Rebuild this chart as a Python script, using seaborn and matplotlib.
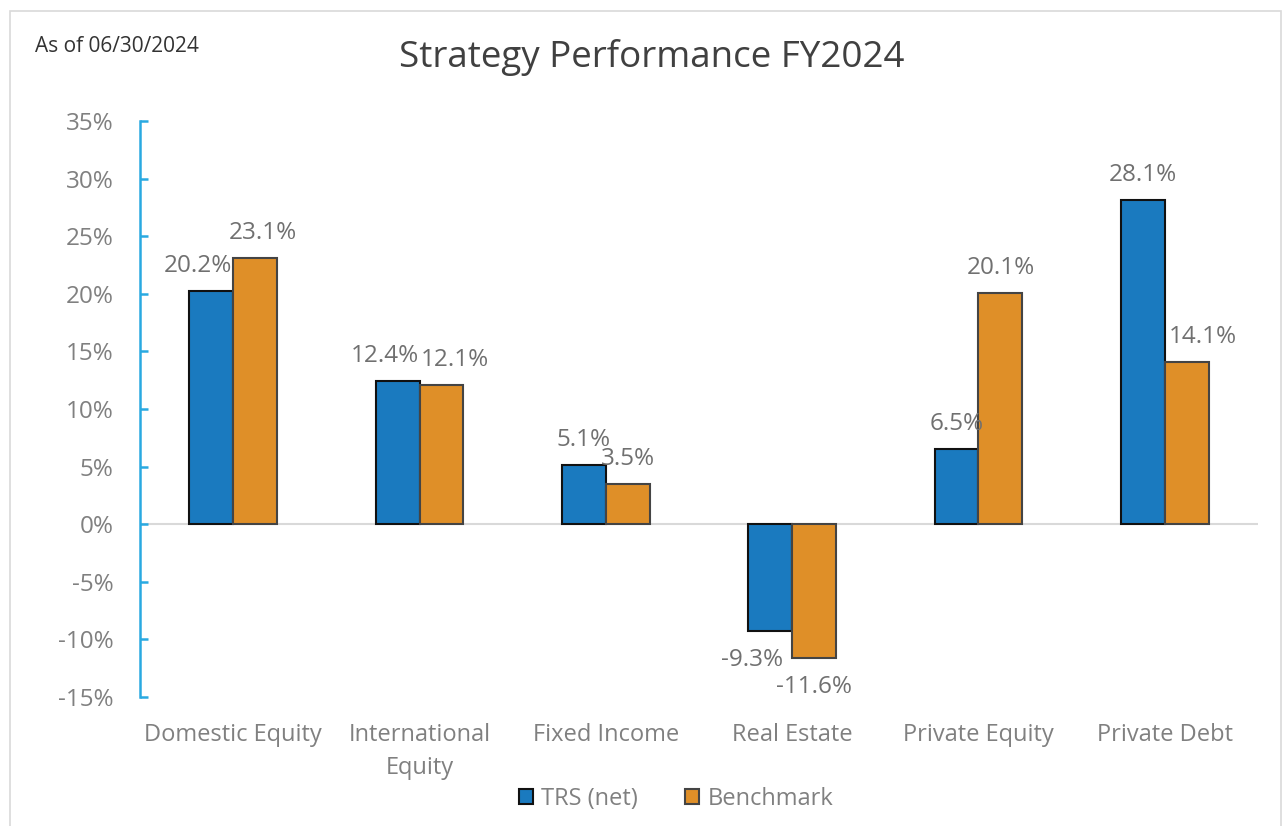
import pandas as pd
import numpy as np
import matplotlib
matplotlib.use('Agg')
import matplotlib.pyplot as plt
import seaborn as sns
from matplotlib.patches import Patch, Rectangle

# data
categories = ['Domestic Equity', 'International\nEquity', 'Fixed Income',
              'Real Estate', 'Private Equity', 'Private Debt']
trs_net = [20.2, 12.4, 5.1, -9.3, 6.5, 28.1]
benchmark = [23.1, 12.1, 3.5, -11.6, 20.1, 14.1]
series = ['TRS (net)', 'Benchmark']

# label nudges (px) so labels do not collide, like the original
trs_dx = [-13, -13, 0, -18, 0, 0]
bm_dx = [8, 14, 0, 0, 0, 16]

blue = '#1a7abf'
orange = '#df8f28'
grey_txt = '#808080'

df = pd.DataFrame({
    'Category': categories * 2,
    'Series': [series[0]] * len(categories) + [series[1]] * len(categories),
    'Value': trs_net + benchmark,
})

sns.set_style('white')
plt.rcParams['font.family'] = ['Open Sans', 'DejaVu Sans']

fig = plt.figure(figsize=(12.83, 8.26), dpi=100)
ax = fig.add_axes([140 / 1283, 1 - 697 / 826, (1258 - 140) / 1283, (697 - 121) / 826])

sns.barplot(data=df, x='Category', y='Value', hue='Series', order=categories,
            hue_order=series, palette=[blue, orange], width=0.47, gap=0,
            ax=ax, legend=False, saturation=1)

edges = ['#111111', '#444444']
for cont, ec, vals, dxs in zip(ax.containers, edges, [trs_net, benchmark], [trs_dx, bm_dx]):
    for bar, v, dx in zip(cont, vals, dxs):
        bar.set_edgecolor(ec)
        bar.set_linewidth(1.5)
        xc = bar.get_x() + bar.get_width() / 2
        dy = 25 if v >= 0 else -29
        ax.annotate(f'{v:.1f}%', (xc, v), xytext=(dx * 0.72, dy * 0.72),
                    textcoords='offset points', ha='center', va='center',
                    fontsize=17.5, color='#707070')

ax.set_ylim(-15, 35)
ax.set_xlim(-0.5, 5.5)
ax.set_yticks(np.arange(-15, 36, 5))
ax.set_yticklabels([f'{t}%' for t in range(-15, 36, 5)])
ax.axhline(0, color='#d9d9d9', lw=1.5, zorder=0.5)

for s in ['top', 'right', 'bottom']:
    ax.spines[s].set_visible(False)
ax.spines['left'].set_color('#29a9e1')
ax.spines['left'].set_linewidth(1.8)
ax.tick_params(axis='y', left=True, direction='in', length=6, width=1.8, color='#29a9e1',
               labelsize=17.5, labelcolor=grey_txt, pad=19)
ax.tick_params(axis='x', bottom=False, length=0, labelsize=17, labelcolor=grey_txt, pad=19)
for lab in ax.get_xticklabels():
    lab.set_linespacing(1.5)
ax.set_xlabel('')
ax.set_ylabel('')

fig.text(652 / 1283, 1 - 58 / 826, 'Strategy Performance FY2024', ha='center',
         va='center', fontsize=26.5, color='#404040')
fig.text(35 / 1283, 1 - 46 / 826, 'As of 06/30/2024', ha='left', va='center',
         fontsize=15, color='#333333')

handles = [Patch(facecolor=blue, edgecolor='#111111', lw=1.5),
           Patch(facecolor=orange, edgecolor='#444444', lw=1.5)]
leg = fig.legend(handles, series, loc='center', bbox_to_anchor=(676 / 1283, 1 - 799 / 826),
                 ncol=2, frameon=False, fontsize=17, handlelength=0.6, handleheight=0.6,
                 handletextpad=0.35, columnspacing=2.0)
for t in leg.get_texts():
    t.set_color(grey_txt)

# light frame around the chart area
fig.patches.append(Rectangle((10 / 1283, -0.05), 1271 / 1283, 1.05 - 11 / 826,
                             transform=fig.transFigure, fill=False,
                             edgecolor='#d9d9d9', lw=1.2))

fig.savefig('out.png', dpi=100)
